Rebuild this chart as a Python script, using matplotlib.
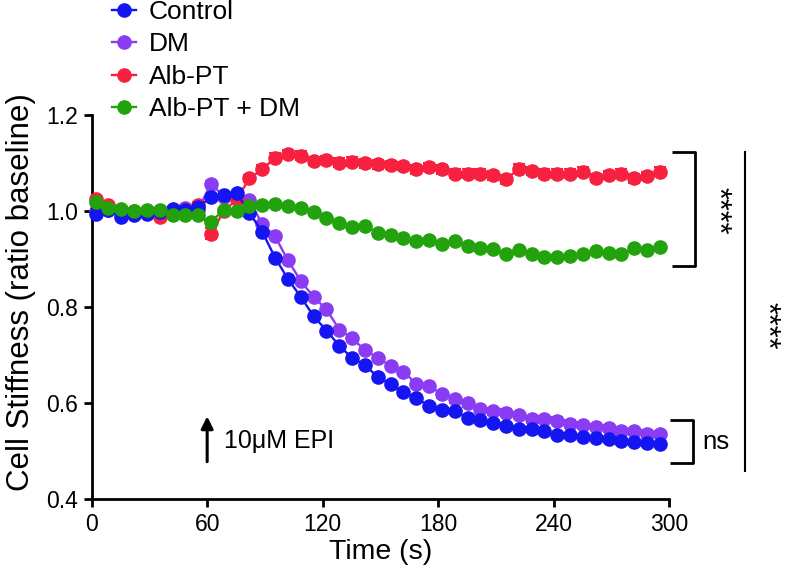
import matplotlib
matplotlib.use('Agg')
import matplotlib.pyplot as plt
from matplotlib.lines import Line2D

plt.rcParams['font.family'] = ['Liberation Sans', 'DejaVu Sans']

# time points (s)
time_s = [2, 8.7, 15.3, 22, 28.7, 35.3, 42, 48.7, 55.3, 62, 68.7, 75.3, 82, 88.7, 95.3,
          102, 108.7, 115.3, 122, 128.7, 135.3, 142, 148.7, 155.3, 162, 168.7, 175.3,
          182, 188.7, 195.3, 202, 208.7, 215.3, 222, 228.7, 235.3, 242, 248.7, 255.3,
          262, 268.7, 275.3, 282, 288.7, 295.3]

control = [0.993, 1.003, 0.987, 0.991, 0.994, 0.998, 1.005, 1.002, 1.008, 1.029, 1.034, 1.038,
           0.996, 0.956, 0.903, 0.858, 0.821, 0.781, 0.751, 0.719, 0.694, 0.679, 0.654, 0.639,
           0.622, 0.610, 0.594, 0.585, 0.583, 0.569, 0.564, 0.559, 0.552, 0.545, 0.545, 0.542,
           0.533, 0.533, 0.529, 0.528, 0.524, 0.521, 0.519, 0.517, 0.515]
dm = [1.000, 1.002, 0.998, 0.996, 0.997, 1.000, 1.002, 1.006, 1.003, 1.057, 1.030, 1.030,
      1.022, 0.972, 0.947, 0.897, 0.854, 0.821, 0.795, 0.753, 0.735, 0.710, 0.694, 0.677,
      0.665, 0.640, 0.636, 0.618, 0.608, 0.599, 0.587, 0.583, 0.580, 0.575, 0.566, 0.566,
      0.563, 0.557, 0.554, 0.550, 0.547, 0.542, 0.541, 0.536, 0.535]
alb_pt = [1.025, 1.012, 1.003, 1.000, 0.995, 0.988, 1.000, 1.003, 1.013, 0.953, 1.000, 1.024,
          1.068, 1.087, 1.111, 1.119, 1.115, 1.104, 1.106, 1.101, 1.103, 1.099, 1.097, 1.096,
          1.094, 1.087, 1.092, 1.087, 1.078, 1.078, 1.078, 1.074, 1.066, 1.088, 1.083, 1.078,
          1.078, 1.078, 1.082, 1.069, 1.075, 1.078, 1.068, 1.073, 1.082]
alb_pt_dm = [1.018, 1.006, 1.005, 1.000, 1.002, 1.002, 0.991, 0.991, 0.991, 0.977, 1.003, 1.000,
             1.010, 1.012, 1.014, 1.010, 1.007, 0.998, 0.986, 0.976, 0.967, 0.969, 0.955, 0.949,
             0.943, 0.938, 0.939, 0.931, 0.938, 0.927, 0.922, 0.920, 0.910, 0.918, 0.910, 0.904,
             0.904, 0.906, 0.911, 0.917, 0.913, 0.910, 0.922, 0.918, 0.924]

# SEM
alb_pt_err = [0.005, 0.004, 0.004, 0.004, 0.005, 0.005, 0.004, 0.004, 0.005, 0.012, 0.006, 0.006,
              0.008, 0.008, 0.009, 0.009, 0.009, 0.009, 0.009, 0.009, 0.009, 0.009, 0.009, 0.009,
              0.009, 0.009, 0.009, 0.009, 0.009, 0.009, 0.009, 0.009, 0.010, 0.009, 0.009, 0.009,
              0.009, 0.009, 0.009, 0.009, 0.009, 0.009, 0.009, 0.009, 0.010]
dm_err = [0.004, 0.004, 0.004, 0.004, 0.004, 0.004, 0.004, 0.004, 0.004, 0.005, 0.004, 0.004,
          0.004, 0.004, 0.004, 0.004, 0.004, 0.004, 0.004, 0.004, 0.004, 0.005, 0.005, 0.005,
          0.006, 0.006, 0.006, 0.007, 0.007, 0.007, 0.007, 0.007, 0.007, 0.007, 0.007, 0.007,
          0.007, 0.007, 0.007, 0.007, 0.007, 0.007, 0.007, 0.007, 0.007]

labels = ['Control', 'DM', 'Alb-PT', 'Alb-PT + DM']
colors = ['#1515f2', '#8a3cf2', '#f7213f', '#22a20c']

fig = plt.figure(figsize=(7.86, 5.79), dpi=100)
ax = fig.add_axes([91.7 / 786, 1 - 499 / 579, (669 - 91.7) / 786, (499 - 115) / 579])

ms = 9.5
lw = 1.7
ax.errorbar(time_s, dm, yerr=dm_err, fmt='-o', color=colors[1], ms=ms, lw=lw,
            capsize=4.5, elinewidth=1.5, capthick=1.5, zorder=2, clip_on=False)
ax.errorbar(time_s, alb_pt, yerr=alb_pt_err, fmt='-o', color=colors[2], ms=ms, lw=lw,
            capsize=4.5, elinewidth=1.5, capthick=1.5, zorder=3, clip_on=False)
ax.plot(time_s, control, '-o', color=colors[0], ms=ms, lw=lw, zorder=4, clip_on=False)
ax.plot(time_s, alb_pt_dm, '-o', color=colors[3], ms=ms, lw=lw, zorder=5, clip_on=False)

ax.set_xlim(0, 300)
ax.set_ylim(0.4, 1.2)
ax.set_xticks([0, 60, 120, 180, 240, 300])
ax.set_yticks([0.4, 0.6, 0.8, 1.0, 1.2])
ax.set_yticklabels(['0.4', '0.6', '0.8', '1.0', '1.2'])
for s in ['top', 'right']:
    ax.spines[s].set_visible(False)
for s in ['left', 'bottom']:
    ax.spines[s].set_linewidth(2)
ax.tick_params(direction='out', length=6, width=2, labelsize=16.5, pad=4)
ax.set_xlabel('Time (s)', fontsize=20.5, labelpad=2)
ax.set_ylabel('Cell Stiffness (ratio baseline)', fontsize=22.5)
ax.yaxis.set_label_coords(-0.097, 0.54)

# EPI arrow
ax.annotate('', xy=(60, 0.578), xytext=(60, 0.472),
            arrowprops=dict(arrowstyle='-|>', color='black', lw=2.2, mutation_scale=18))
ax.text(69, 0.52, '10\u03bcM EPI', fontsize=18, va='center', ha='left')

# significance brackets
kw = dict(color='black', lw=2, clip_on=False, solid_capstyle='butt')
ax.plot([301.5, 313.5, 313.5, 301.5], [1.122, 1.122, 0.885, 0.885], **kw)
ax.text(325, 1.0, '****', rotation=270, fontsize=22, ha='center', va='center')
ax.plot([300.5, 312.5, 312.5, 300.5], [0.564, 0.564, 0.474, 0.474], **kw)
ax.text(317.5, 0.518, 'ns', fontsize=18.5, ha='left', va='center')
ax.plot([339.5, 339.5], [1.122, 0.458], color='black', lw=1.5, clip_on=False)
ax.text(350, 0.76, '****', rotation=270, fontsize=22, ha='center', va='center')

handles = [Line2D([], [], color=c, marker='o', ms=ms, lw=lw) for c in colors]
fig.legend(handles, labels, loc='upper left', bbox_to_anchor=(112 / 786, 1.0),
           frameon=False, fontsize=19, handlelength=0.9, handletextpad=0.5,
           labelspacing=0.32, borderpad=0, borderaxespad=0)

fig.savefig('out.png', dpi=100)
